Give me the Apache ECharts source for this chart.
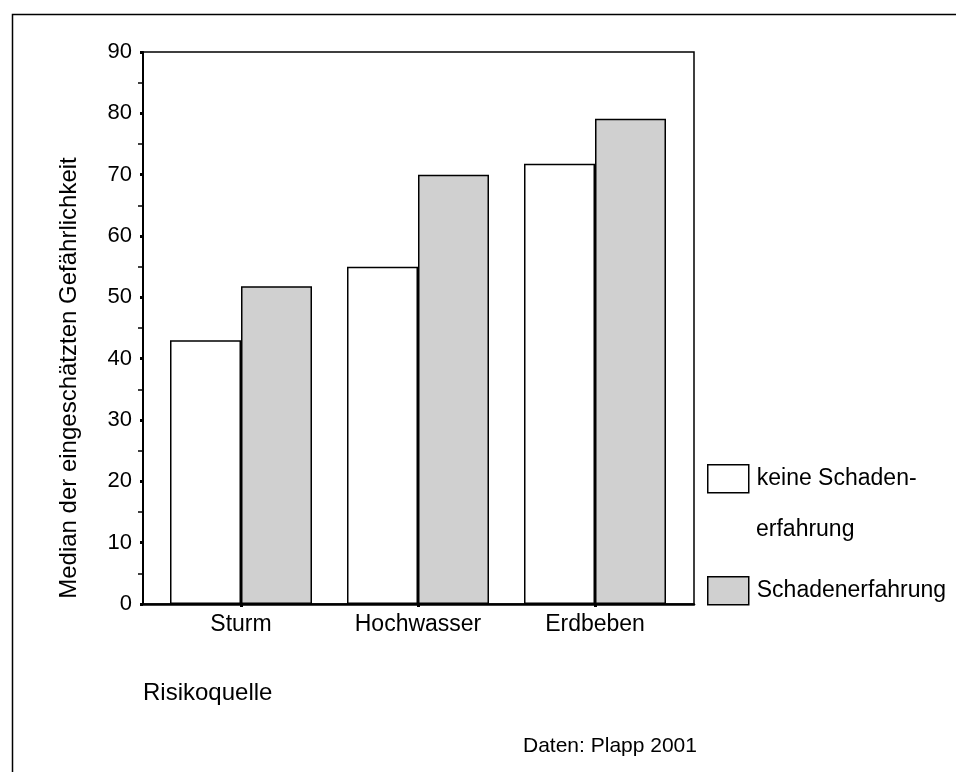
<!DOCTYPE html>
<html>
<head>
<meta charset="utf-8">
<script src="https://cdn.jsdelivr.net/npm/echarts@6/dist/echarts.min.js"></script>
<style>
html,body{margin:0;padding:0;background:#fff;}
#chart{width:956px;height:772px;}
</style>
</head>
<body>
<div id="chart"></div>
<script>
const categories = ['Sturm', 'Hochwasser', 'Erdbeben'];
const seriesNames = ['keine Schadenerfahrung', 'Schadenerfahrung'];
const keineSchaden = [43, 55, 71.8];
const mitSchaden = [51.8, 70, 79.1];
const yMin = 0, yMax = 90, yInterval = 10;
const yAxisTitle = 'Median der eingeschätzten Gefährlichkeit';
const xAxisTitle = 'Risikoquelle';
const sourceNote = 'Daten: Plapp 2001';
const legendLine1 = 'keine Schaden-';
const legendLine2 = 'erfahrung';

const FONT = '"Liberation Sans", Arial, sans-serif';
const chart = echarts.init(document.getElementById('chart'), null, {renderer: 'canvas'});

const option = {
  backgroundColor: '#fff',
  animation: false,
  textStyle: {fontFamily: FONT, color: '#000'},
  grid: [
    {left: 143, top: 52, width: 551, height: 552, show: true, borderColor: '#000', borderWidth: 1.5, backgroundColor: 'transparent'},
    {left: 152.5, top: 52, width: 531, height: 552}
  ],
  xAxis: [
    {gridIndex: 0, type: 'value', min: 0, max: 1,
     axisLine: {show: true, onZero: false, lineStyle: {color: '#000', width: 2.5}},
     axisTick: {show: false}, axisLabel: {show: false}, splitLine: {show: false}},
    {gridIndex: 1, type: 'category', data: categories,
     axisLine: {show: false},
     axisTick: {show: true, alignWithLabel: true, length: 3, lineStyle: {color: '#000', width: 3}},
     axisLabel: {fontSize: 23, fontFamily: FONT, color: '#000', margin: 9},
     splitLine: {show: false}}
  ],
  yAxis: [
    {gridIndex: 0, type: 'value', min: yMin, max: yMax, interval: yInterval,
     axisLine: {show: true, lineStyle: {color: '#000', width: 2}},
     axisTick: {show: true, length: 3, lineStyle: {color: '#000', width: 3}},
     minorTick: {show: true, splitNumber: 2, length: 5, lineStyle: {color: '#000', width: 1.5}},
     axisLabel: {fontSize: 22, fontFamily: FONT, color: '#000', margin: 11},
     splitLine: {show: false}},
    {gridIndex: 1, type: 'value', min: yMin, max: yMax, show: false}
  ],
  legend: [
    {data: [seriesNames[0]], left: 707, top: 464, orient: 'vertical', icon: 'rect', padding: 0,
     itemWidth: 41, itemHeight: 28,
     itemStyle: {borderColor: '#000', borderWidth: 1.5},
     formatter: function () { return legendLine1; },
     textStyle: {fontSize: 23, fontFamily: FONT, color: '#000', padding: [0, 0, 0, 3]}},
    {data: [seriesNames[1]], left: 707, top: 576, orient: 'vertical', icon: 'rect', padding: 0,
     itemWidth: 41, itemHeight: 28,
     itemStyle: {borderColor: '#000', borderWidth: 1.5},
     textStyle: {fontSize: 23, fontFamily: FONT, color: '#000', padding: [0, 0, 0, 3]}}
  ],
  series: [
    {name: seriesNames[0], type: 'bar', xAxisIndex: 1, yAxisIndex: 1, data: keineSchaden,
     barWidth: 71, barGap: '0%',
     itemStyle: {color: '#ffffff', borderColor: '#000', borderWidth: 1.5}},
    {name: seriesNames[1], type: 'bar', xAxisIndex: 1, yAxisIndex: 1, data: mitSchaden,
     barWidth: 71, barGap: '0%',
     itemStyle: {color: '#d0d0d0', borderColor: '#000', borderWidth: 1.5}}
  ],
  graphic: [
    {type: 'rect', left: 10, top: 12, z: -10, silent: true,
     shape: {width: 960, height: 780},
     style: {fill: 'none', stroke: '#000', lineWidth: 1.5}},
    {type: 'text', x: 69, y: 378, rotation: Math.PI / 2, silent: true,
     style: {text: yAxisTitle, fontSize: 24, fontFamily: FONT, fill: '#000', align: 'center', verticalAlign: 'middle'}},
    {type: 'text', x: 143, y: 693, silent: true,
     style: {text: xAxisTitle, fontSize: 24, fontFamily: FONT, fill: '#000', align: 'left', verticalAlign: 'middle'}},
    {type: 'text', x: 523, y: 746, silent: true,
     style: {text: sourceNote, fontSize: 21, fontFamily: FONT, fill: '#000', align: 'left', verticalAlign: 'middle'}},
    {type: 'text', x: 756, y: 530, silent: true,
     style: {text: legendLine2, fontSize: 23, fontFamily: FONT, fill: '#000', align: 'left', verticalAlign: 'middle'}}
  ]
};
chart.setOption(option);
</script>
</body>
</html>
